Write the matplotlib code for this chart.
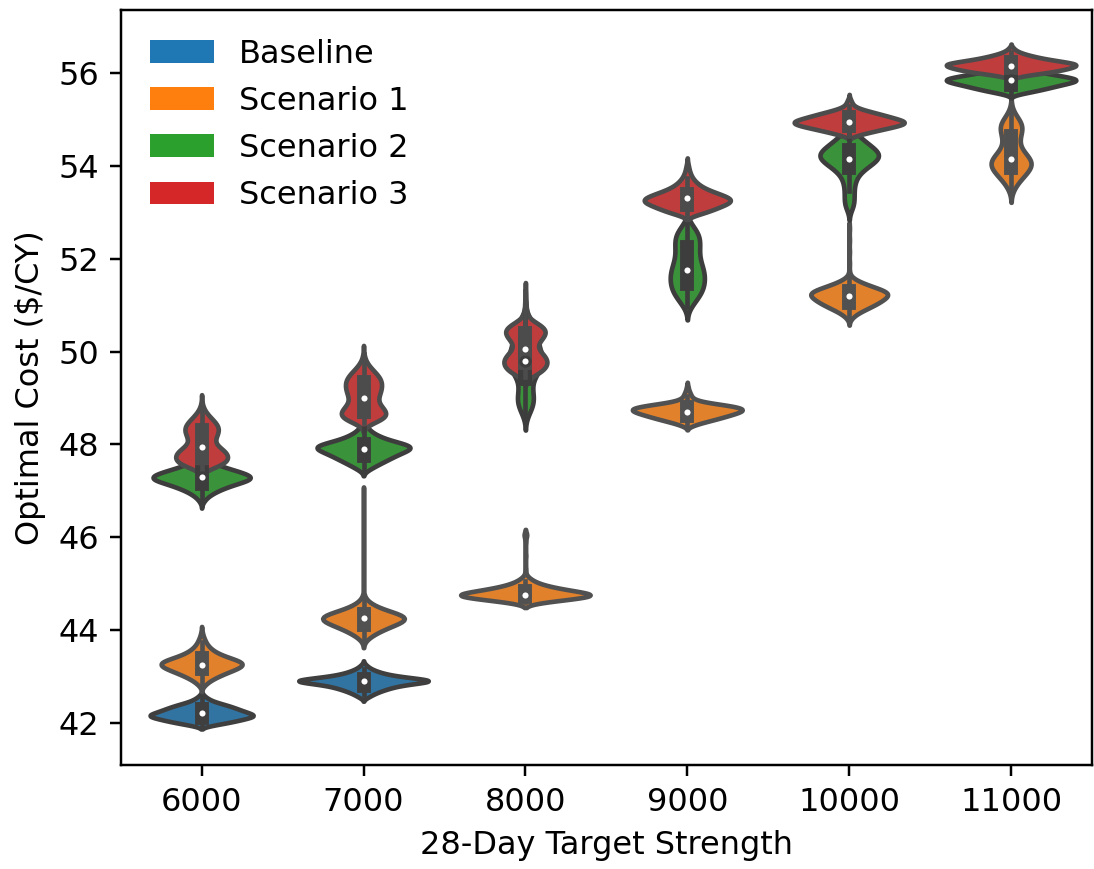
import colorsys

import numpy as np
import matplotlib
matplotlib.use("Agg")
import matplotlib.pyplot as plt
from matplotlib.colors import to_rgb
from matplotlib.patches import Patch

# Target 28-day strengths (x categories)
strengths = [6000, 7000, 8000, 9000, 10000, 11000]
scenarios = ["Baseline", "Scenario 1", "Scenario 2", "Scenario 3"]
palette = ["#1f77b4", "#ff7f0e", "#2ca02c", "#d62728"]

# Optimal cost of each optimisation run, tallied as (cost in $/CY, number of runs)
baseline_runs = {
    6000: ([41.95, 42.00, 42.05, 42.10, 42.15, 42.20, 42.25, 42.30, 42.35, 42.40,
            42.45, 42.50, 42.55, 42.60],
           [14, 30, 42, 53, 64, 56, 48, 41, 34, 25, 15, 9, 5, 2]),
    7000: ([42.55, 42.60, 42.65, 42.70, 42.75, 42.80, 42.85, 42.90, 42.95, 43.00,
            43.05, 43.10, 43.15, 43.20, 43.25],
           [4, 7, 11, 16, 22, 29, 42, 64, 46, 28, 18, 12, 7, 4, 2]),
}

scenario1_runs = {
    6000: ([42.80, 42.85, 42.90, 42.95, 43.00, 43.05, 43.10, 43.15, 43.20, 43.25,
            43.30, 43.35, 43.40, 43.45, 43.50, 43.55, 43.60, 43.65, 43.70, 43.75,
            43.80, 43.85, 43.90, 43.95],
           [3, 5, 8, 12, 17, 22, 28, 34, 40, 43, 43, 36, 28, 21, 16, 12, 9, 7, 5, 4,
            3, 2, 1, 1]),
    7000: ([43.80, 43.85, 43.90, 43.95, 44.00, 44.05, 44.10, 44.15, 44.20, 44.25,
            44.30, 44.35, 44.40, 44.45, 44.50, 44.55, 44.60, 44.65, 44.70,
            45.30, 45.90, 46.50, 46.90],
           [3, 5, 8, 11, 15, 19, 24, 29, 34, 38, 36, 28, 20, 14, 10, 6, 4, 2, 1,
            1, 1, 1, 1]),
    8000: ([44.60, 44.65, 44.70, 44.75, 44.80, 44.85, 44.90, 44.95, 45.00, 45.05,
            45.10, 45.15, 45.30, 45.60, 45.90, 46.05],
           [15, 32, 50, 65, 50, 37, 26, 17, 11, 7, 4, 2, 1, 1, 1, 3]),
    9000: ([48.40, 48.45, 48.50, 48.55, 48.60, 48.65, 48.70, 48.75, 48.80, 48.85,
            48.90, 48.95, 49.00, 49.05, 49.10, 49.15, 49.20, 49.25],
           [5, 12, 21, 30, 38, 46, 53, 58, 52, 38, 19, 9, 5, 4, 3, 2, 1, 1]),
    10000: ([50.70, 50.75, 50.80, 50.85, 50.90, 50.95, 51.00, 51.05, 51.10, 51.15,
             51.20, 51.25, 51.30, 51.35, 51.40, 51.45, 51.50, 51.55, 51.60,
             51.70, 51.90, 52.15, 52.40, 52.65],
            [2, 4, 7, 11, 16, 21, 26, 30, 34, 37, 40, 42, 38, 31, 24, 17, 11, 6, 3,
             1, 1, 1, 1, 1]),
    11000: ([53.45, 53.55, 53.65, 53.75, 53.85, 53.95, 54.05, 54.15, 54.25, 54.35,
             54.45, 54.55, 54.65, 54.75, 54.85, 54.95, 55.05, 55.15, 55.25],
            [6, 13, 24, 38, 52, 65, 72, 64, 50, 35, 27, 27, 30, 36, 39, 33, 21, 9, 3]),
}

scenario2_runs = {
    6000: ([46.75, 46.80, 46.85, 46.90, 46.95, 47.00, 47.05, 47.10, 47.15, 47.20,
            47.25, 47.30, 47.35, 47.40, 47.45, 47.50, 47.55, 47.60, 47.65, 47.70,
            47.75],
           [1, 2, 3, 5, 7, 10, 13, 17, 21, 26, 31, 31, 28, 24, 19, 14, 10, 7, 5, 3, 2]),
    7000: ([47.45, 47.50, 47.55, 47.60, 47.65, 47.70, 47.75, 47.80, 47.85, 47.90,
            47.95, 48.00, 48.05, 48.10, 48.15, 48.20, 48.25, 48.30, 48.35, 48.40,
            48.45],
           [4, 6, 9, 12, 15, 18, 21, 24, 28, 32, 34, 29, 22, 16, 12, 9, 6, 4, 3, 2, 1]),
    8000: ([48.60, 48.70, 48.80, 48.90, 49.00, 49.10, 49.20, 49.30, 49.40, 49.50,
            49.60, 49.70, 49.80, 49.90, 50.00, 50.10, 50.20, 50.30, 50.40, 50.50,
            50.60, 50.70, 50.80],
           [6, 14, 22, 26, 26, 23, 20, 18, 23, 33, 44, 50, 54, 54, 47, 38, 36, 39, 42,
            36, 24, 12, 6]),
    9000: ([50.95, 51.05, 51.15, 51.25, 51.35, 51.45, 51.55, 51.65, 51.75, 51.85,
            51.95, 52.05, 52.15, 52.25, 52.35, 52.45, 52.55, 52.65, 52.75],
           [8, 16, 25, 33, 38, 40, 41, 41, 39, 35, 31, 28, 28, 29, 30, 30, 27, 19, 9]),
    10000: ([53.05, 53.15, 53.25, 53.35, 53.45, 53.55, 53.65, 53.75, 53.85, 53.95,
             54.05, 54.15, 54.25, 54.35, 54.45, 54.55, 54.65, 54.75, 54.85],
            [6, 12, 12, 12, 12, 12, 15, 18, 27, 40, 58, 74, 78, 66, 50, 36, 22, 11, 5]),
    11000: ([55.55, 55.60, 55.65, 55.70, 55.75, 55.80, 55.85, 55.90, 55.95, 56.00,
             56.05, 56.10, 56.15, 56.20],
            [8, 20, 30, 39, 48, 58, 65, 58, 45, 32, 20, 11, 5, 2]),
}

scenario3_runs = {
    6000: ([47.45, 47.50, 47.55, 47.60, 47.65, 47.70, 47.75, 47.80, 47.85, 47.90,
            47.95, 48.00, 48.05, 48.10, 48.15, 48.20, 48.25, 48.30, 48.35, 48.40,
            48.45, 48.50, 48.55, 48.60, 48.65, 48.70, 48.75, 48.80, 48.85, 48.90],
           [10, 34, 52, 62, 66, 68, 68, 66, 60, 52, 42, 34, 32, 33, 36, 39, 42, 44,
            44, 42, 38, 32, 26, 20, 15, 10, 6, 4, 2, 1]),
    7000: ([48.45, 48.50, 48.55, 48.60, 48.65, 48.70, 48.75, 48.80, 48.85, 48.90,
            48.95, 49.00, 49.05, 49.10, 49.15, 49.20, 49.25, 49.30, 49.35, 49.40,
            49.45, 49.50, 49.55, 49.60, 49.65, 49.70, 49.75, 49.80, 49.85, 49.90,
            49.95],
           [18, 38, 50, 56, 57, 55, 50, 44, 38, 34, 33, 34, 36, 39, 41, 42, 43, 43,
            43, 41, 38, 33, 28, 22, 17, 12, 8, 5, 3, 2, 1]),
    8000: ([49.45, 49.50, 49.55, 49.60, 49.65, 49.70, 49.75, 49.80, 49.85, 49.90,
            49.95, 50.00, 50.05, 50.10, 50.15, 50.20, 50.25, 50.30, 50.35, 50.40,
            50.45, 50.50, 50.55, 50.60, 50.65, 50.70, 50.80, 50.90, 51.00, 51.10,
            51.20, 51.30],
           [12, 26, 36, 42, 48, 50, 52, 52, 50, 46, 40, 34, 28, 26, 26, 30, 36, 42,
            46, 48, 50, 48, 40, 30, 18, 10, 6, 4, 4, 2, 2, 2]),
    9000: ([52.95, 53.00, 53.05, 53.10, 53.15, 53.20, 53.25, 53.30, 53.35, 53.40,
            53.45, 53.50, 53.55, 53.60, 53.65, 53.70, 53.75, 53.80, 53.85, 53.90,
            53.95, 54.00, 54.05],
           [12, 20, 26, 32, 38, 44, 48, 46, 40, 33, 26, 20, 15, 12, 9, 7, 5, 4, 3,
            2, 2, 1, 1]),
    10000: ([54.65, 54.70, 54.75, 54.80, 54.85, 54.90, 54.95, 55.00, 55.05, 55.10,
             55.15, 55.20, 55.25, 55.30, 55.35, 55.40, 55.45],
            [6, 15, 24, 34, 44, 53, 55, 48, 40, 32, 24, 15, 8, 4, 3, 2, 1]),
    11000: ([55.90, 55.95, 56.00, 56.05, 56.10, 56.15, 56.20, 56.25, 56.30, 56.35,
             56.40, 56.45, 56.50, 56.55],
            [3, 14, 32, 46, 56, 64, 65, 50, 35, 24, 15, 8, 4, 2]),
}

all_runs = [baseline_runs, scenario1_runs, scenario2_runs, scenario3_runs]


def desaturate(color, prop):
    h, l, s = colorsys.rgb_to_hls(*to_rgb(color))
    return colorsys.hls_to_rgb(h, l, s * prop)


def edge_gray(color):
    lum = colorsys.rgb_to_hls(*to_rgb(color))[1] * 0.6
    return (lum, lum, lum)


def gaussian_kde(obs, gridsize=100, cut=2):
    """Scott-bandwidth Gaussian KDE on a support extended by `cut` bandwidths."""
    n = obs.size
    bw = obs.std(ddof=1) * n ** (-1.0 / 5)
    support = np.linspace(obs.min() - cut * bw, obs.max() + cut * bw, gridsize)
    z = (support[:, None] - obs[None, :]) / bw
    dens = np.exp(-0.5 * z ** 2).sum(axis=1) / (n * bw * np.sqrt(2 * np.pi))
    return support, dens


DPI = 222
plt.rcParams["font.size"] = 10.4
fig = plt.figure(figsize=(1094 / DPI, 869 / DPI), dpi=DPI)
ax = fig.add_axes([0.1103, 0.1197, 0.8879, 0.8688])

half_width = 0.4
lw = 1.5

for runs, base_color in zip(all_runs, palette):
    face = desaturate(base_color, 0.75)
    gray = edge_gray(base_color)

    groups = []
    for strength, (values, counts) in runs.items():
        obs = np.repeat(np.asarray(values, float), counts)
        support, dens = gaussian_kde(obs)
        groups.append((strengths.index(strength), obs, support, dens))

    # area scaling: the densest violin of the series gets the full width
    peak = max(g[3].max() for g in groups)

    for pos, obs, support, dens in groups:
        w = dens / peak * half_width
        ax.fill_betweenx(support, pos - w, pos + w, facecolor=face,
                         edgecolor=gray, linewidth=lw)

        q25, q50, q75 = np.percentile(obs, [25, 50, 75])
        reach = 1.5 * (q75 - q25)
        lo = obs[obs >= q25 - reach].min()
        hi = obs[obs <= q75 + reach].max()
        ax.plot([pos, pos], [lo, hi], linewidth=lw, color=gray)
        ax.plot([pos, pos], [q25, q75], linewidth=lw * 3, color=gray)
        ax.scatter(pos, q50, zorder=3, color="white", edgecolor=gray,
                   s=(lw * 2) ** 2)

ax.set_xlim(-0.5, len(strengths) - 0.5)
ax.set_ylim(41.09, 57.36)
ax.set_xticks(range(len(strengths)))
ax.set_xticklabels([str(s) for s in strengths])
ax.set_yticks(np.arange(42, 57, 2))
ax.set_xlabel("28-Day Target Strength")
ax.set_ylabel(r"Optimal Cost (\$/CY)")

handles = [Patch(facecolor=c, edgecolor="none", label=n)
           for n, c in zip(scenarios, palette)]
ax.legend(handles=handles, loc="upper left", frameon=False)

fig.savefig("out.png", dpi=DPI)
